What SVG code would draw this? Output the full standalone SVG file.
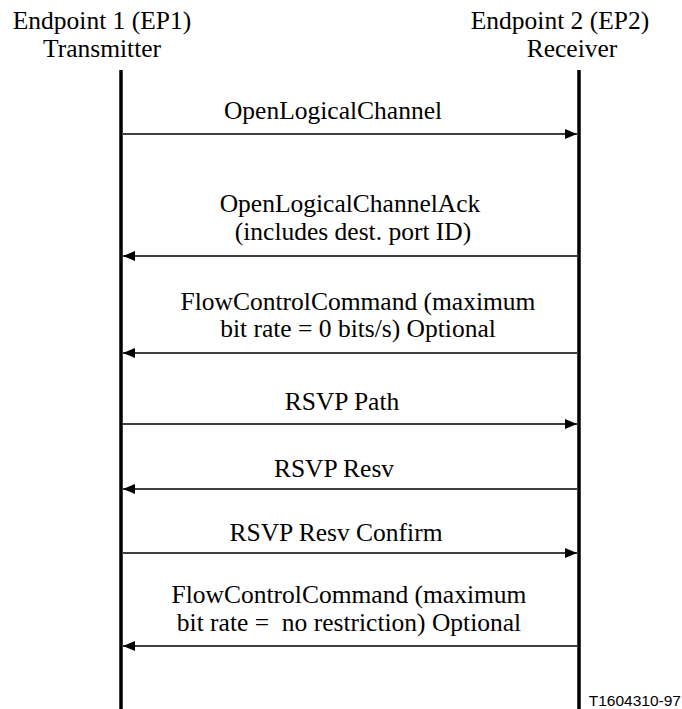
<svg xmlns="http://www.w3.org/2000/svg" width="682" height="709" viewBox="0 0 682 709">
<style>
.t{font-family:"Liberation Serif","Times New Roman",serif;font-size:25.5px;fill:#000;text-anchor:middle}
.life{stroke:#000;stroke-width:3.5;fill:none}
.msg{stroke:#000;stroke-width:1.4;fill:none}
.ref{font-family:"Liberation Sans",Arial,sans-serif;font-size:15.5px;fill:#000;text-anchor:end}
</style>
<defs>
<marker id="ah" viewBox="0 0 12 10" refX="12" refY="5" markerWidth="12" markerHeight="10" markerUnits="userSpaceOnUse" orient="auto">
<path d="M0,0 L12,5 L0,10 Z" fill="#000"/>
</marker>
</defs>
<rect width="682" height="709" fill="#fff"/>
<g id="ep1">
<text class="t" x="102" y="29">Endpoint 1 (EP1)</text>
<text class="t" x="102" y="57">Transmitter</text>
<line class="life" x1="121" y1="70" x2="121" y2="709"/>
</g>
<g id="ep2">
<text class="t" x="560" y="29">Endpoint 2 (EP2)</text>
<text class="t" x="572" y="57">Receiver</text>
<line class="life" x1="579" y1="70" x2="579" y2="709"/>
</g>
<g id="connectors">
<line class="msg" x1="123" y1="134" x2="577" y2="134" marker-end="url(#ah)"/>
<line class="msg" x1="577" y1="256" x2="123" y2="256" marker-end="url(#ah)"/>
<line class="msg" x1="577" y1="353" x2="123" y2="353" marker-end="url(#ah)"/>
<line class="msg" x1="123" y1="424" x2="577" y2="424" marker-end="url(#ah)"/>
<line class="msg" x1="577" y1="489" x2="123" y2="489" marker-end="url(#ah)"/>
<line class="msg" x1="123" y1="553" x2="577" y2="553" marker-end="url(#ah)"/>
<line class="msg" x1="577" y1="646" x2="123" y2="646" marker-end="url(#ah)"/>
</g>
<g id="labels">
<text class="t" x="333" y="119">OpenLogicalChannel</text>
<text class="t" x="350" y="212">OpenLogicalChannelAck</text>
<text class="t" x="353" y="240">(includes dest. port ID)</text>
<text class="t" x="358" y="310">FlowControlCommand (maximum</text>
<text class="t" x="358" y="337">bit rate = 0 bits/s) Optional</text>
<text class="t" x="342" y="410">RSVP Path</text>
<text class="t" x="334" y="477">RSVP Resv</text>
<text class="t" x="336" y="541">RSVP Resv Confirm</text>
<text class="t" x="349" y="603">FlowControlCommand (maximum</text>
<text class="t" x="349" y="631" xml:space="preserve">bit rate =  no restriction) Optional</text>
</g>
<text class="ref" x="681" y="706">T1604310-97</text>
</svg>
